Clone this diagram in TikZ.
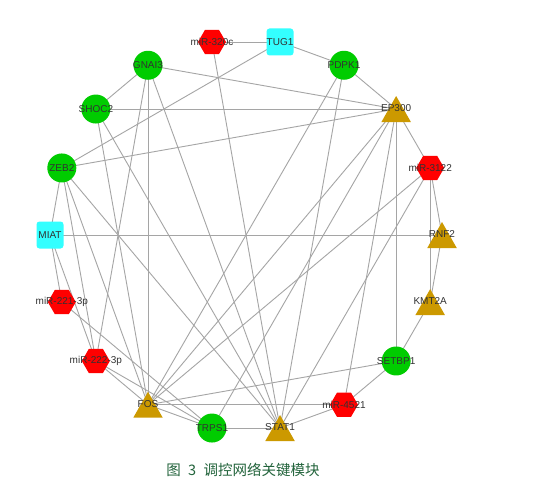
\documentclass[tikz,border=0pt]{standalone}
\usepackage{fontspec}
\setmainfont{Liberation Sans}
\newfontfamily\cjk{Noto Sans CJK SC}
\usetikzlibrary{shapes.geometric,backgrounds}
\definecolor{ngreen}{RGB}{0,204,0}
\definecolor{nred}{RGB}{255,0,0}
\definecolor{ncyan}{RGB}{51,255,255}
\definecolor{ngold}{RGB}{204,153,0}
\definecolor{edgegray}{RGB}{165,165,165}
\definecolor{captiongreen}{RGB}{35,100,60}
\definecolor{labgray}{RGB}{50,50,50}
\begin{document}
\begin{tikzpicture}[x=1pt,y=1pt,
  lab/.style={font=\fontsize{10}{11}\selectfont, text=labgray, inner sep=0pt},
  gnode/.style={circle, fill=ngreen, minimum size=29pt, inner sep=0pt, label={[lab]center:#1}},
  hnode/.style={regular polygon, regular polygon sides=6, fill=nred, minimum size=28pt, inner sep=0pt, label={[lab]center:#1}},
  snode/.style={rectangle, rounded corners=3pt, fill=ncyan, minimum size=27pt, inner sep=0pt, label={[lab]center:#1}},
  tnode/.style={rectangle, minimum width=29.5pt, minimum height=26pt, inner sep=0pt,
      path picture={\fill[ngold] (path picture bounding box.south west) -- (path picture bounding box.south east) -- (path picture bounding box.north) -- cycle;},
      label={[lab,yshift=1pt]center:#1}},
  link/.style={draw=edgegray, line width=0.9pt}]
\useasboundingbox (0,0) rectangle (551,-493);
\begin{scope}[shift={(246,-235)}]
  \node[hnode=miR-320c]  (m320)   at (100:196) {};
  \node[snode=TUG1]      (tug1)   at (80:196)  {};
  \node[gnode=PDPK1]     (pdpk1)  at (60:196)  {};
  \node[tnode=EP300]     (ep300)  at (40:196)  {};
  \node[hnode=miR-3122]  (m3122)  at (20:196)  {};
  \node[tnode=RNF2]      (rnf2)   at (0:196)   {};
  \node[tnode=KMT2A]     (kmt2a)  at (-20:196) {};
  \node[gnode=SETBP1]    (setbp1) at (-40:196) {};
  \node[hnode=miR-4521]  (m4521)  at (-60:196) {};
  \node[tnode=STAT1]     (stat1)  at (-80:196) {};
  \node[gnode=TRPS1]     (trps1)  at (-100:196) {};
  \node[tnode=FOS]       (fos)    at (-120:196) {};
  \node[hnode=miR-222-3p] (m222)  at (-140:196) {};
  \node[hnode=miR-221-3p] (m221)  at (-160:196) {};
  \node[snode=MIAT]      (miat)   at (180:196) {};
  \node[gnode=ZEB2]      (zeb2)   at (160:196) {};
  \node[gnode=SHOC2]     (shoc2)  at (140:196) {};
  \node[gnode=GNAI3]     (gnai3)  at (120:196) {};
\end{scope}
\node[font=\cjk\fontsize{14.5}{15}\selectfont, text=captiongreen] (cap) at (243,-470) {图\hspace{0.5em}3\hspace{0.5em}调控网络关键模块};
\begin{scope}[on background layer]
  \fill[white] (0,0) rectangle (551,-493);
  \foreach \a/\b in {m320/tug1, m320/stat1, tug1/zeb2, tug1/pdpk1, pdpk1/ep300,
      gnai3/ep300, gnai3/shoc2, shoc2/ep300, zeb2/ep300, zeb2/miat,
      ep300/m3122, ep300/setbp1, gnai3/fos, gnai3/m222, gnai3/stat1,
      pdpk1/fos, pdpk1/stat1, miat/rnf2, m3122/rnf2, m3122/kmt2a,
      rnf2/kmt2a, kmt2a/setbp1, setbp1/m4521, m4521/stat1, trps1/stat1,
      fos/m4521, fos/setbp1, miat/m221, miat/m222, trps1/ep300,
      zeb2/m222, zeb2/fos, zeb2/stat1, shoc2/fos, shoc2/stat1,
      m221/trps1, m222/fos, m222/trps1, fos/trps1, ep300/fos,
      m3122/fos, m3122/stat1, ep300/m4521}
    \draw[link] (\a.center) -- (\b.center);
\end{scope}
\end{tikzpicture}
\end{document}
